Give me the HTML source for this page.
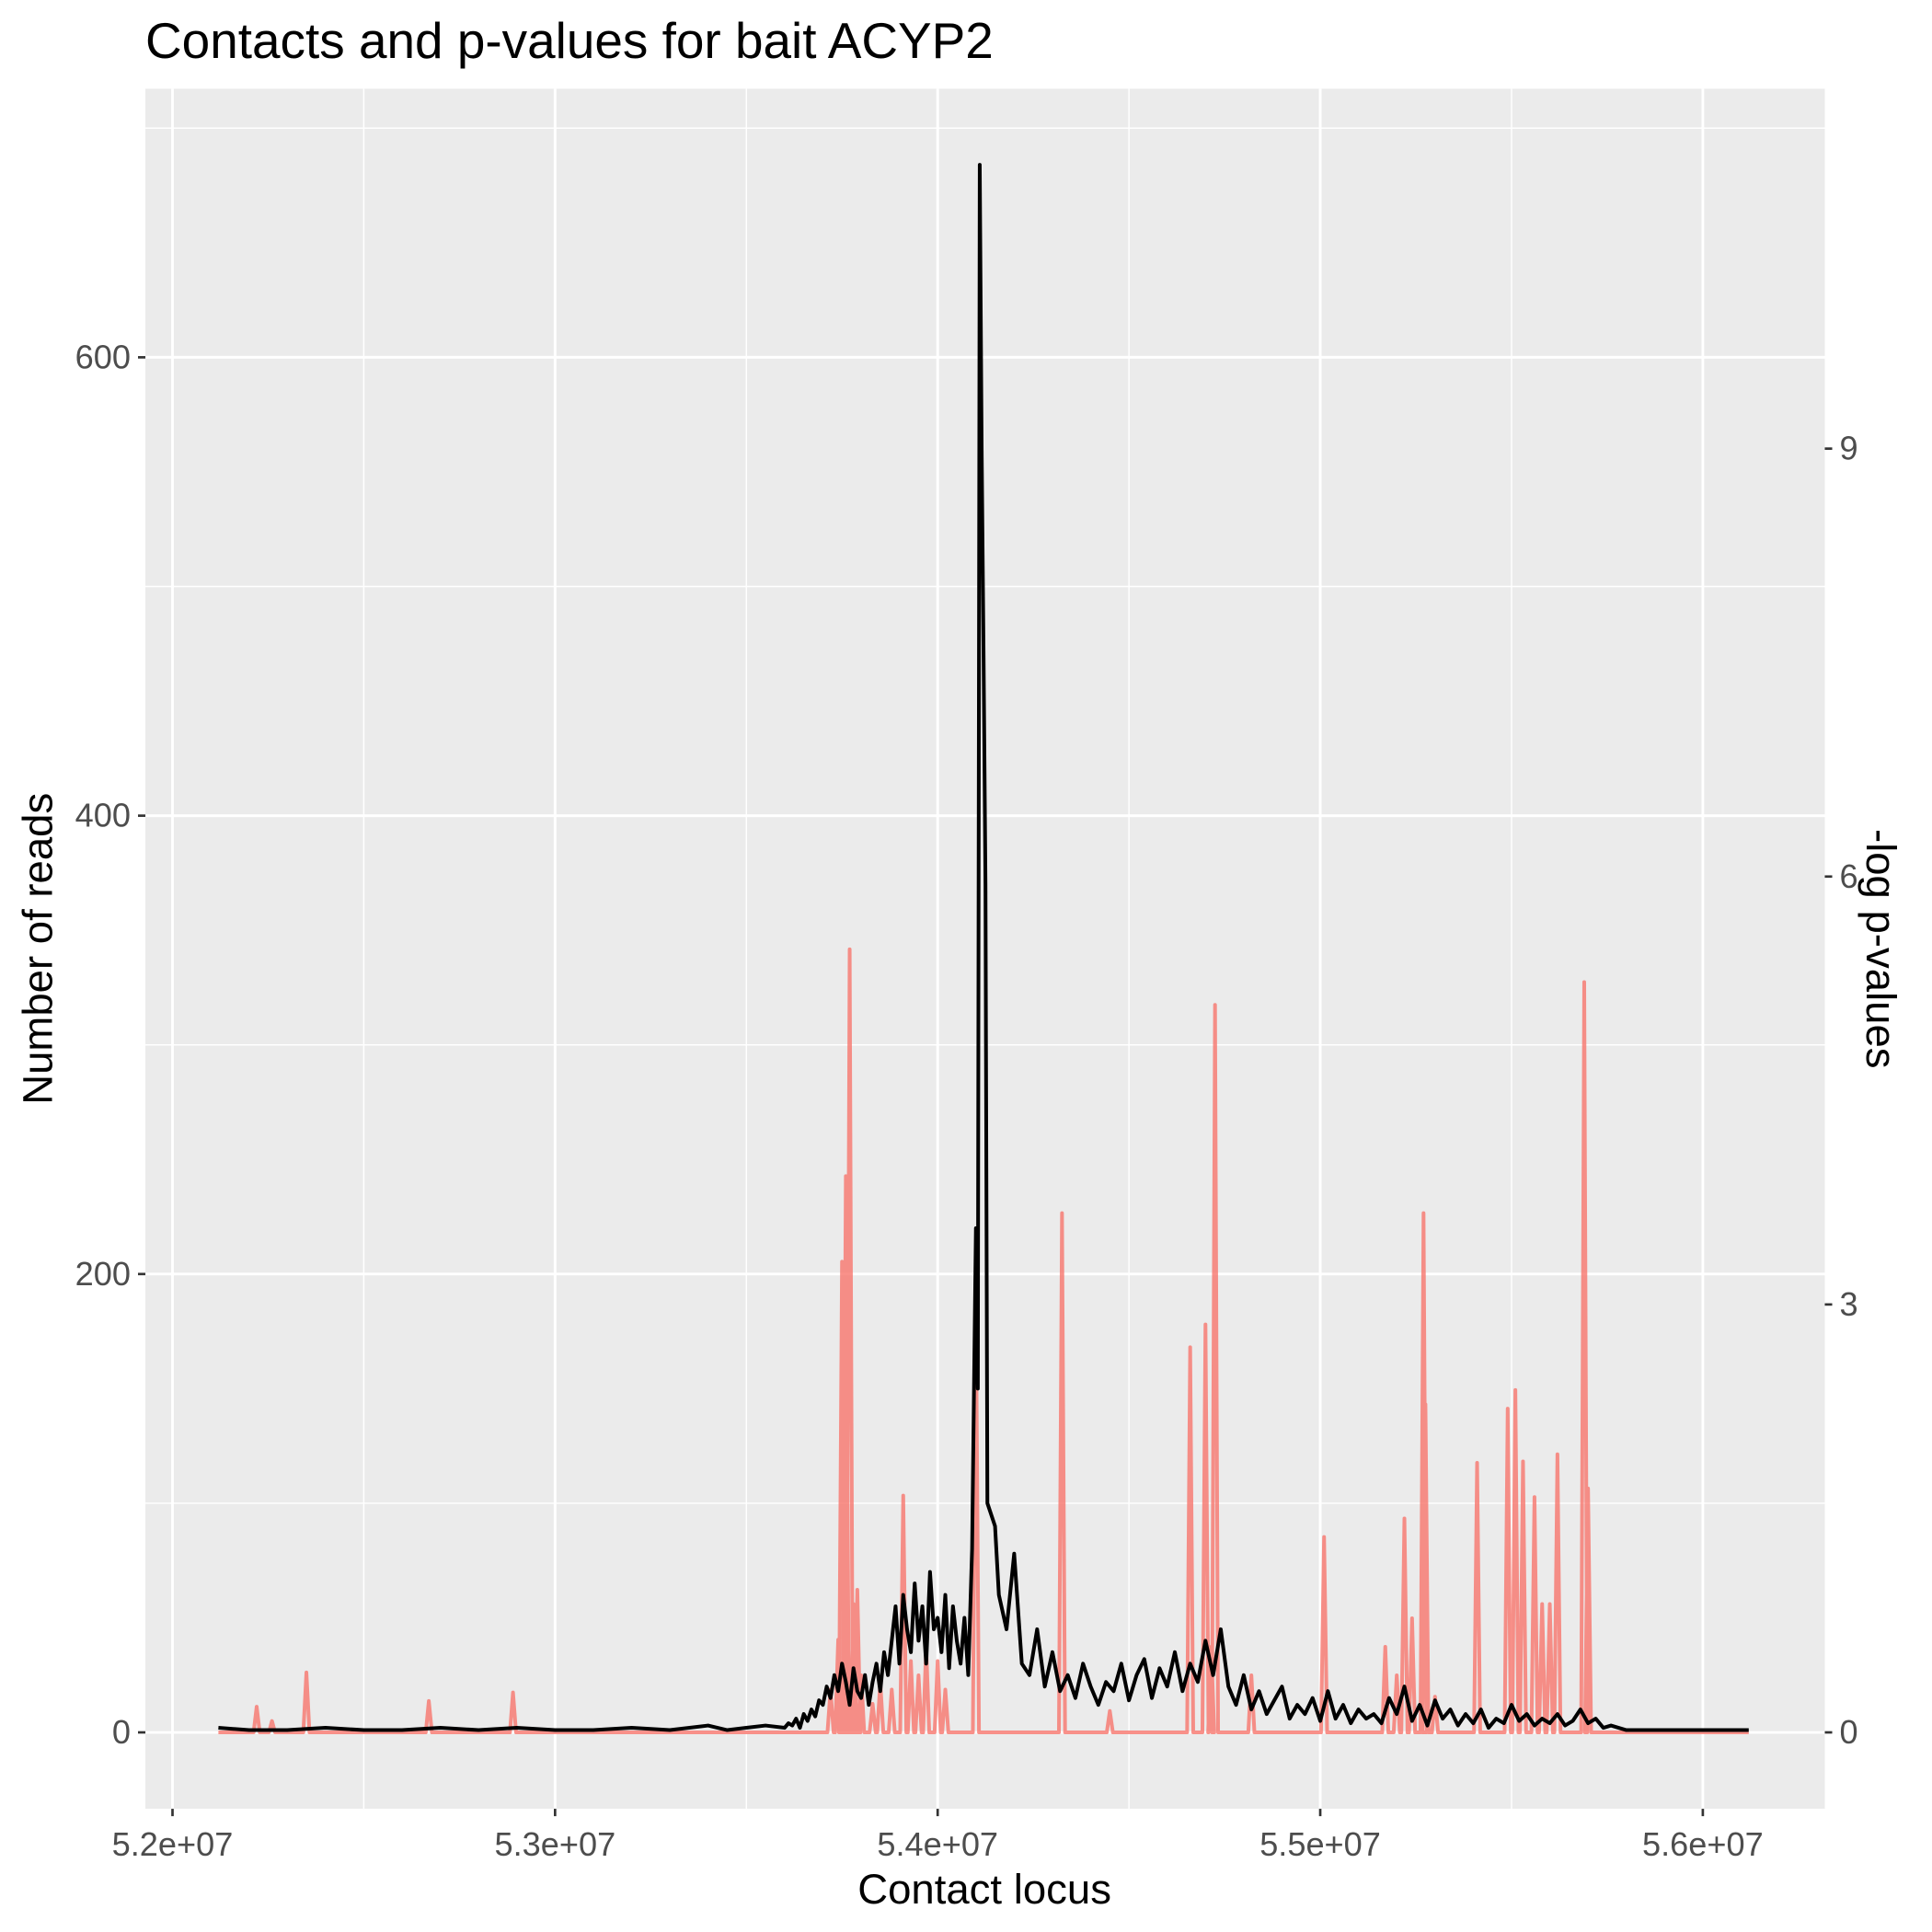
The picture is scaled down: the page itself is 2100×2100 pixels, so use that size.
<!DOCTYPE html>
<html><head><meta charset="utf-8"><style>
html,body{margin:0;padding:0;background:#fff;}
svg{display:block;font-family:"Liberation Sans",Arial,sans-serif;}
</style></head><body>
<svg id="chart" width="2100" height="2100" viewBox="0 0 1568 1568" xmlns="http://www.w3.org/2000/svg">
<rect x="0" y="0" width="1568" height="1568" fill="#fff"/>
<rect x="118" y="72" width="1363" height="1396" fill="#ebebeb"/>
<g id="grid"></g>
<g id="series"></g>
<g id="axes"></g>
<text x="118" y="47" font-size="41" fill="#000">Contacts and p-values for bait ACYP2</text>
<text x="799" y="1545" font-size="34" text-anchor="middle" fill="#000">Contact locus</text>
<text transform="translate(42,770) rotate(-90)" font-size="34" text-anchor="middle" fill="#000">Number of reads</text>
<text transform="translate(1515,770) rotate(90)" font-size="34" text-anchor="middle" fill="#000">-log p-values</text>
</svg>
<script>
const xTicks = [52, 53, 54, 55, 56];
const xTickLabels = ["5.2e+07", "5.3e+07", "5.4e+07", "5.5e+07", "5.6e+07"];
const yTicks = [0, 200, 400, 600];
const y2Ticks = [0, 3, 6, 9];
const readsBaseX = [52.12,52.2,52.3,52.4,52.5,52.6,52.7,52.8,52.9,53.0,53.1,53.2,53.3,53.4,53.45,53.5,53.55];
const readsBaseY = [2,1,1,2,1,1,2,1,2,1,1,2,1,3,1,2,3];
const readsA = [2,4,3,6,2,8,5,10,7,14,12,20,15,25,18,30,22,12,28,18,15,25,12,22,30,18,35,25,40,55,30,60,45,35,65,40,55,30,70,45,50,35,60,28,55,40,30,50,25,80];
const readsPeakX = [54.10,54.105,54.11,54.115,54.12,54.125,54.13,54.14,54.15];
const readsPeakY = [220,150,684,560,470,370,100,95,90];
const readsB = [60,45,78,30,25,45,20,35,18,25,15,30,20,12,22,18,30,14,25,32,15,28,20,35,18,30,22,40,25,45,20,12,25,10,18,8,14,20,6,12,8,15,5,18,6,12,4,10,6,8,4,15,8,20,5,12,3,14,6,10,3,8,4,10,2,6,4,12,5,8,3,6,4,8,3,5,10,4,6,2,3,2,1];
const readsTailX = [55.9,56.0,56.12];
const readsTailY = [1,1,1];
const pvalPeaksX = [52.22,52.26,52.35,52.67,52.89,53.72,53.74,53.75,53.76,53.77,53.78,53.79,53.8,53.83,53.85,53.88,53.91,53.93,53.95,53.97,54.0,54.02,54.1,54.325,54.45,54.66,54.7,54.715,54.725,54.82,55.01,55.17,55.2,55.22,55.24,55.27,55.275,55.3,55.41,55.49,55.51,55.53,55.56,55.58,55.6,55.62,55.69,55.7];
const pvalPeaksY = [0.18,0.08,0.42,0.22,0.28,0.3,0.65,3.3,3.9,5.49,0.9,1.0,0.4,0.2,0.35,0.3,1.66,0.5,0.4,0.6,0.5,0.3,2.99,3.64,0.15,2.7,2.86,0.6,5.1,0.4,1.37,0.6,0.4,1.5,0.8,3.64,2.3,0.25,1.89,2.27,2.4,1.9,1.65,0.9,0.9,1.95,5.26,1.71];

const NS="http://www.w3.org/2000/svg";
const X0=118,X1=1481,Y0=72,Y1=1468;
const xs = v => 140 + (v-52)*310.5;
const ys = v => 1406 - v*(372/200);
const y2s = v => 1406 - v*(347.3/3);
function mk(tag, attrs, parent){const e=document.createElementNS(NS,tag);for(const k in attrs)e.setAttribute(k,attrs[k]);parent.appendChild(e);return e;}
const grid=document.getElementById('grid'), axes=document.getElementById('axes'), series=document.getElementById('series');
for(let v=52.5; v<56; v+=1){
  const l=mk('line',{x1:xs(v),x2:xs(v),y1:Y0,y2:Y1,stroke:'#fff','stroke-width':1.1},grid);
  
  
}
for(let v=100; v<=700; v+=200){
  const l=mk('line',{x1:X0,x2:X1,y1:ys(v),y2:ys(v),stroke:'#fff','stroke-width':1.1},grid);
  
  
}
xTicks.forEach((v,i)=>{
  const l=mk('line',{x1:xs(v),x2:xs(v),y1:Y0,y2:Y1,stroke:'#fff','stroke-width':2.2},grid);
  
  
  const t=mk('line',{x1:xs(v),x2:xs(v),y1:Y1,y2:Y1+6,stroke:'#333','stroke-width':2},axes);
  
  
  const tx=mk('text',{x:xs(v),y:Y1+38,'font-size':27,'text-anchor':'middle',fill:'#4d4d4d'},axes);
  tx.textContent=xTickLabels[i];
  
  
});
yTicks.forEach(v=>{
  const l=mk('line',{x1:X0,x2:X1,y1:ys(v),y2:ys(v),stroke:'#fff','stroke-width':2.2},grid);
  
  
  const t=mk('line',{x1:X0-6,x2:X0,y1:ys(v),y2:ys(v),stroke:'#333','stroke-width':2},axes);
  
  
  const tx=mk('text',{x:X0-12,y:ys(v)+9,'font-size':27,'text-anchor':'end',fill:'#4d4d4d'},axes);
  tx.textContent=String(v);
  
  
});
y2Ticks.forEach(v=>{
  const t=mk('line',{x1:X1,x2:X1+6,y1:y2s(v),y2:y2s(v),stroke:'#333','stroke-width':2},axes);
  
  
  const tx=mk('text',{x:X1+12,y:y2s(v)+9,'font-size':27,'text-anchor':'start',fill:'#4d4d4d'},axes);
  tx.textContent=String(v);
  
  
});
let pts=[[xs(52.12),y2s(0)]];
pvalPeaksX.forEach((v,i)=>{
  pts.push([xs(v-0.008),y2s(0)]);
  pts.push([xs(v),y2s(pvalPeaksY[i])]);
  pts.push([xs(v+0.008),y2s(0)]);
});
pts.push([xs(56.12),y2s(0)]);
const pl=mk('polyline',{points:pts.map(p=>p.join(',')).join(' '),fill:'none',stroke:'#f8766d','stroke-width':3,'stroke-linejoin':'round','stroke-opacity':0.8},series);


let rp=[];
readsBaseX.forEach((v,i)=>rp.push([xs(v),ys(readsBaseY[i])]));
readsA.forEach((y,i)=>rp.push([xs(53.60+i*0.01),ys(y)]));
readsPeakX.forEach((v,i)=>rp.push([xs(v),ys(readsPeakY[i])]));
readsB.forEach((y,i)=>rp.push([xs(54.16+i*0.02),ys(y)]));
readsTailX.forEach((v,i)=>rp.push([xs(v),ys(readsTailY[i])]));
const rl=mk('polyline',{points:rp.map(p=>p.join(',')).join(' '),fill:'none',stroke:'#000','stroke-width':3,'stroke-linejoin':'round'},series);


</script>
</body></html>
